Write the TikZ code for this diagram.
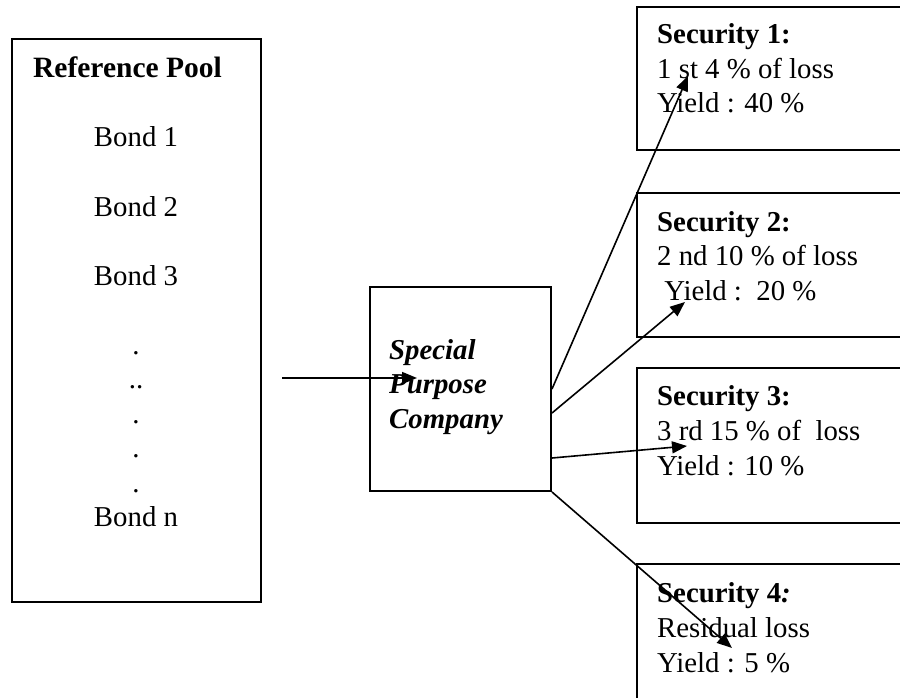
\documentclass[tikz,border=0pt]{standalone}
\usepackage{fontspec}
\setmainfont{Liberation Serif}
\usetikzlibrary{arrows.meta}

\tikzset{
  box/.style={draw=black, line width=2pt, rectangle, inner sep=0pt},
  txt/.style={anchor=base west, inner sep=0pt, font=\fontsize{28.8}{34.5}\selectfont},
  ctxt/.style={anchor=base, inner sep=0pt, font=\fontsize{28.8}{34.5}\selectfont},
  link/.style={draw=black, line width=1.6pt, -{Triangle[length=15pt,width=12pt]}}
}

\begin{document}
\begin{tikzpicture}[x=1pt, y=-1pt]
\useasboundingbox (0,0) rectangle (900,698);
\clip (0,0) rectangle (900,698);

% reference pool
\node[box, minimum width=249pt, minimum height=563pt] (pool) at (136.5,320.5) {};
\node[ctxt, font=\fontsize{29.5}{34.5}\selectfont\bfseries] (title) at (127.5,78) {Reference Pool};
\node[ctxt] (b1) at (136,147) {Bond 1};
\node[ctxt] (b2) at (136,216) {Bond 2};
\node[ctxt] (b3) at (136,285) {Bond 3};
\node[ctxt] (d1) at (136,354) {.};
\node[ctxt] (d2) at (136,388.5) {..};
\node[ctxt] (d3) at (136,423) {.};
\node[ctxt] (d4) at (136,457.5) {.};
\node[ctxt] (d5) at (136,492) {.};
\node[ctxt] (bn) at (136,526.5) {Bond n};

% special purpose company
\node[box, minimum width=181pt, minimum height=204pt] (spc) at (460.5,389) {};
\node[txt, font=\fontsize{28.8}{34.5}\selectfont\bfseries\itshape] (s1) at (389,359) {Special};
\node[txt, font=\fontsize{28.8}{34.5}\selectfont\bfseries\itshape] (s2) at (389,393.5) {Purpose};
\node[txt, font=\fontsize{28.8}{34.5}\selectfont\bfseries\itshape] (s3) at (389,428) {Company};

% securities
\node[box, minimum width=330pt, minimum height=143pt] (sec1) at (802,78.5) {};
\node[txt] (t11) at (657,44) {\textbf{Security 1:}};
\node[txt] (t12) at (657,78.5) {1 st 4 \% of loss};
\node[txt] (t13) at (657,113) {Yield : 40 \%};

\node[box, minimum width=330pt, minimum height=144pt] (sec2) at (802,265) {};
\node[txt] (t21) at (657,231) {\textbf{Security 2:}};
\node[txt] (t22) at (657,265.5) {2 nd 10 \% of loss};
\node[txt] (t23) at (657,300) {~Yield :~~20 \%};

\node[box, minimum width=330pt, minimum height=155pt] (sec3) at (802,445.5) {};
\node[txt] (t31) at (657,405) {\textbf{Security 3:}};
\node[txt] (t32) at (657,440) {3 rd 15 \% of~~loss};
\node[txt] (t33) at (657,475) {Yield : 10 \%};

\node[box, minimum width=330pt, minimum height=160pt] (sec4) at (802,644) {};
\node[txt] (t41) at (657,602) {\textbf{Security 4\textit{:}}};
\node[txt] (t42) at (657,637) {Residual loss};
\node[txt] (t43) at (657,672) {Yield : 5 \%};

% arrows
\coordinate (inStart) at (282,378);
\coordinate (inTip) at (417,378);
\coordinate (tip1) at (688,76);
\coordinate (tip2) at (685,302);
\coordinate (tip3) at (687,446);
\coordinate (tip4) at (732,648);

\draw[link] (inStart) -- (inTip);
\draw[link] (spc.east) -- (tip1);
\draw[link] ([yshift=-24pt]spc.east) -- (tip2);
\draw[link] ([yshift=-69pt]spc.east) -- (tip3);
\draw[link] (spc.south east) -- (tip4);
\end{tikzpicture}
\end{document}
